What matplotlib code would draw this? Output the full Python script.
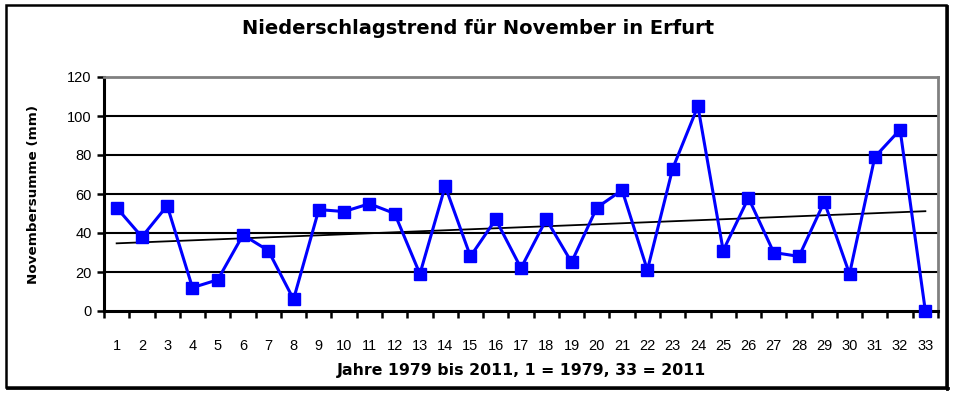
import numpy as np
import matplotlib.pyplot as plt
from matplotlib.patches import Rectangle
from matplotlib.lines import Line2D

plt.rcParams['font.family'] = ['Liberation Sans', 'DejaVu Sans']

# Niederschlag November Erfurt, 1 = 1979 ... 33 = 2011
jahre = list(range(1, 34))
niederschlag = [53, 38, 54, 12, 16, 39, 31, 6, 52, 51, 55, 50, 19, 64, 28, 47,
                22, 47, 25, 53, 62, 21, 73, 105, 31, 58, 30, 28, 56, 19, 79, 93, 0]
y_ticks = [0, 20, 40, 60, 80, 100, 120]

x = np.array(jahre)
y = np.array(niederschlag)
# linearer Trend
m, b = np.polyfit(x, y, 1)

fig = plt.figure(figsize=(9.57, 3.94), dpi=100)
ax = fig.add_axes([104 / 957, 1 - 311 / 394, (938 - 104) / 957, (311 - 77) / 394])

for v in y_ticks[1:-1]:
    ax.axhline(v, color='black', lw=1.5, zorder=1)

ax.plot(x, m * x + b, color='black', lw=1.3, zorder=2)
ax.plot(x, y, color='#0000FF', lw=2.2, marker='s', markersize=8,
        markerfacecolor='#0000FF', markeredgecolor='#0000FF', zorder=3, clip_on=False)

ax.set_xlim(0.5, 33.5)
ax.set_ylim(0, 120)
ax.set_yticks(y_ticks)
ax.set_xticks(x)
ax.set_xticks(np.arange(0.5, 34, 1), minor=True)
ax.tick_params(axis='x', which='major', length=0, pad=20, labelsize=10.5)
ax.tick_params(axis='x', which='minor', length=5, width=1.8, direction='out')
ax.tick_params(axis='y', length=5, width=1.8, direction='out', labelsize=10.5, pad=4)

ax.spines['left'].set_linewidth(2.2)
ax.spines['bottom'].set_linewidth(2.2)
ax.spines['top'].set_color('#808080')
ax.spines['top'].set_linewidth(2)
ax.spines['right'].set_color('#808080')
ax.spines['right'].set_linewidth(2)

bold = dict(family='DejaVu Sans', fontweight='bold')
ax.set_ylabel('Novembersumme (mm)', fontsize=9.7, labelpad=19, **bold)
ax.set_xlabel('Jahre 1979 bis 2011, 1 = 1979, 33 = 2011', fontsize=11.3,
              labelpad=7, **bold)
fig.text(0.5, 1 - 29 / 394, 'Niederschlagstrend für November in Erfurt',
         ha='center', va='center', fontsize=14, **bold)

# Rahmen um das Diagramm
fig.patches.append(Rectangle((6 / 957, 1 - 387 / 394), 940 / 957, 382 / 394,
                             transform=fig.transFigure, fill=False,
                             edgecolor='black', lw=1.8))
fig.lines.append(Line2D([947 / 957, 947 / 957], [1 - 389 / 394, 1 - 6 / 394],
                        transform=fig.transFigure, color='black', lw=2))
fig.lines.append(Line2D([7 / 957, 948 / 957], [1 - 388 / 394, 1 - 388 / 394],
                        transform=fig.transFigure, color='black', lw=2))

fig.savefig('out.png', dpi=100)
